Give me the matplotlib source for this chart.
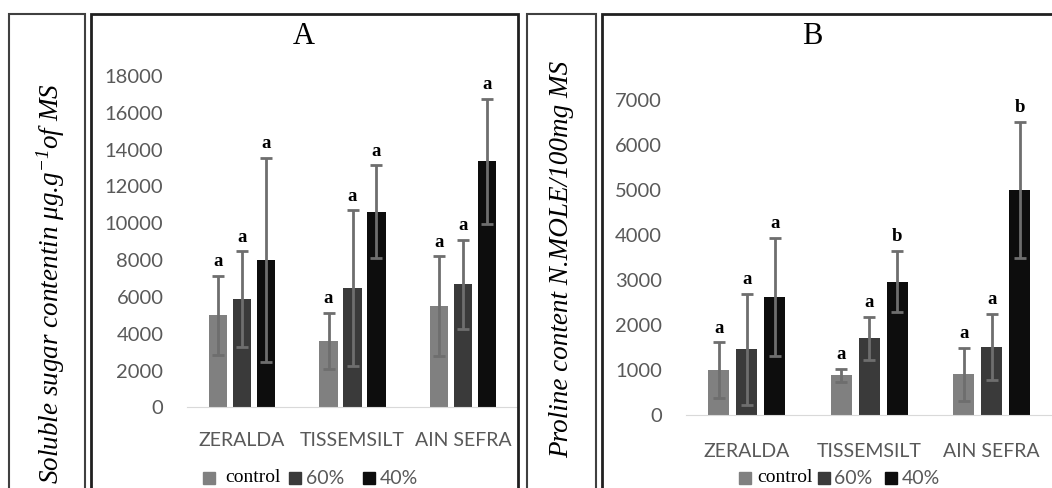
import matplotlib.pyplot as plt
import numpy as np
from matplotlib.patches import Rectangle

W, H = 1052, 488

sites = ['ZERALDA', 'TISSEMSILT', 'AIN SEFRA']
treatments = ['control', '60%', '40%']
colors = ['#808080', '#3a3a3a', '#0d0d0d']

# panel A - soluble sugar
sugar_control = [5000, 3630, 5500]
sugar_60 = [5890, 6480, 6680]
sugar_40 = [8000, 10640, 13360]
sugar_err_control = [2150, 1520, 2700]
sugar_err_60 = [2600, 4230, 2430]
sugar_err_40 = [5560, 2510, 3390]
sugar_letters = [['a', 'a', 'a'], ['a', 'a', 'a'], ['a', 'a', 'a']]

# panel B - proline
proline_control = [1000, 883, 905]
proline_60 = [1457, 1706, 1509]
proline_40 = [2625, 2965, 5000]
proline_err_control = [620, 140, 590]
proline_err_60 = [1240, 480, 740]
proline_err_40 = [1315, 680, 1520]
proline_letters = [['a', 'a', 'a'], ['a', 'a', 'a'], ['a', 'b', 'b']]

plt.rcParams['mathtext.fontset'] = 'custom'
plt.rcParams['mathtext.rm'] = 'Liberation Serif:italic'
plt.rcParams['mathtext.it'] = 'Liberation Serif:italic'

fig = plt.figure(figsize=(W / 100, H / 100), dpi=100)


def fx(px):
    return px / W


def fy(py):
    return 1 - py / H


def box(x0, x1, top, lw, col):
    fig.add_artist(Rectangle((fx(x0), -0.2), fx(x1 - x0), fy(top) + 0.2,
                             transform=fig.transFigure, fill=False,
                             lw=lw, edgecolor=col))


def panel(left, right, y0, ytop, ymax, step, means, errs, letters, width, offs, xpad):
    ax = fig.add_axes([fx(left), fy(y0), fx(right - left), (y0 - ytop) / H])
    x = np.arange(len(sites))
    for i in range(3):
        ax.bar(x + (i - 1) * offs, means[i], width, color=colors[i],
               yerr=errs[i], ecolor='#6e6e6e', capsize=4,
               error_kw=dict(elinewidth=2, capthick=2), zorder=2)
        for j in range(3):
            ax.annotate(letters[i][j], (x[j] + (i - 1) * offs, means[i][j] + errs[i][j]),
                        xytext=(0, 4), textcoords='offset points', ha='center',
                        va='bottom', fontsize=13.5, family='Liberation Serif',
                        weight='bold')
    ax.set_xlim(-0.5, 2.5)
    ax.set_ylim(0, ymax)
    ax.set_yticks(np.arange(0, ymax + 1, step))
    ax.set_xticks(x)
    ax.set_xticklabels(sites)
    ax.tick_params(length=0, labelsize=14.5, labelcolor='#595959')
    ax.tick_params(axis='x', labelsize=14)
    ax.tick_params(axis='y', pad=17)
    ax.tick_params(axis='x', pad=xpad)
    for lab in ax.get_xticklabels() + ax.get_yticklabels():
        lab.set_family('Lato')
    for s in ['top', 'right', 'left']:
        ax.spines[s].set_visible(False)
    ax.spines['bottom'].set_color('#d9d9d9')
    ax.set_facecolor('none')
    return ax


# frames
box(9, 84.5, 14, 1.5, '#404040')
box(91.3, 518, 14, 2, '#202020')
box(527, 596, 14, 1.5, '#404040')
box(601.7, 1070, 14, 2, '#202020')

panel(187, 518, 407.4, 76, 18000, 2000,
      [sugar_control, sugar_60, sugar_40],
      [sugar_err_control, sugar_err_60, sugar_err_40],
      sugar_letters, 0.168, 0.217, 18)
panel(685.5, 1053, 415, 100.1, 7000, 1000,
      [proline_control, proline_60, proline_40],
      [proline_err_control, proline_err_60, proline_err_40],
      proline_letters, 0.171, 0.23, 20)

fig.text(fx(304), fy(37), 'A', ha='center', va='center', fontsize=22,
         family='Liberation Serif')
fig.text(fx(812.5), fy(36), 'B', ha='center', va='center', fontsize=22,
         family='Liberation Serif')

fig.text(fx(50.7), fy(284), r'Soluble sugar contentin $\mu$g.g$^{-1}$of MS',
         rotation=90, ha='center', va='center', fontsize=19.5,
         family='Liberation Serif', style='italic')
fig.text(fx(562), fy(259), 'Proline content N.MOLE/100mg MS',
         rotation=90, ha='center', va='center', fontsize=19.5,
         family='Liberation Serif', style='italic')


def legend(xs, y):
    # xs: square x, text x for each treatment
    for i, t in enumerate(treatments):
        sx, tx = xs[i]
        fig.add_artist(Rectangle((fx(sx), fy(y + 6)), fx(12), 12 / H,
                                 transform=fig.transFigure, color=colors[i]))
        if t == 'control':
            fig.text(fx(tx), fy(y), t, ha='left', va='center', fontsize=14,
                     family='Liberation Serif', color='black')
        else:
            fig.text(fx(tx), fy(y), t, ha='left', va='center', fontsize=14,
                     family='Lato', color='#595959')


legend([(203, 225), (289, 306), (363, 380)], 478)
legend([(739, 757), (817.6, 834), (885, 902)], 478)

fig.savefig('out.png', dpi=100)
